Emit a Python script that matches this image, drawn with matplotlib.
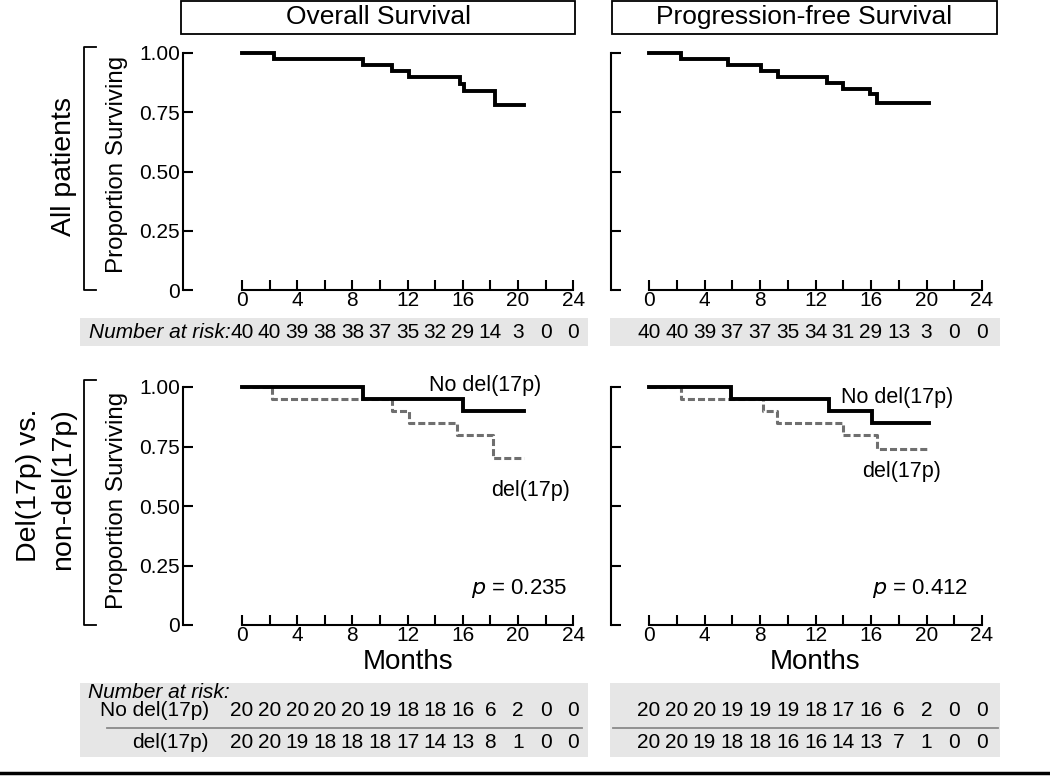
import numpy as np
import matplotlib
matplotlib.use("Agg")
import matplotlib.pyplot as plt
from matplotlib.patches import Rectangle
from matplotlib.lines import Line2D

plt.rcParams['font.family'] = ['Liberation Sans', 'DejaVu Sans']

# ---- data ----
months_ticks = np.arange(0, 25, 2)

os_all_t = [0, 2.3, 8.8, 10.85, 12.1, 15.8, 16.1, 18.3, 20.4]
os_all_s = [1.0, 0.975, 0.95, 0.925, 0.9, 0.87, 0.84, 0.78, 0.78]

pfs_all_t = [0, 2.3, 5.7, 8.1, 9.3, 12.8, 14.0, 15.95, 16.4, 20.2]
pfs_all_s = [1.0, 0.975, 0.95, 0.925, 0.9, 0.875, 0.85, 0.825, 0.79, 0.79]

os_nodel_t = [0, 8.8, 16.0, 20.4]
os_nodel_s = [1.0, 0.95, 0.9, 0.9]
os_del_t = [0, 2.2, 10.85, 12.1, 15.6, 18.2, 20.4]
os_del_s = [1.0, 0.95, 0.9, 0.85, 0.8, 0.7, 0.7]

pfs_nodel_t = [0, 5.9, 13.0, 16.1, 20.2]
pfs_nodel_s = [1.0, 0.95, 0.9, 0.85, 0.85]
pfs_del_t = [0, 2.3, 8.2, 9.2, 14.0, 16.4, 20.2]
pfs_del_s = [1.0, 0.95, 0.9, 0.85, 0.8, 0.74, 0.74]

risk_os_all = [40, 40, 39, 38, 38, 37, 35, 32, 29, 14, 3, 0, 0]
risk_pfs_all = [40, 40, 39, 37, 37, 35, 34, 31, 29, 13, 3, 0, 0]
risk_os_nodel = [20, 20, 20, 20, 20, 19, 18, 18, 16, 6, 2, 0, 0]
risk_os_del = [20, 20, 19, 18, 18, 18, 17, 14, 13, 8, 1, 0, 0]
risk_pfs_nodel = [20, 20, 20, 19, 19, 19, 18, 17, 16, 6, 2, 0, 0]
risk_pfs_del = [20, 20, 19, 18, 18, 16, 16, 14, 13, 7, 1, 0, 0]

W, H = 1050, 777
fig = plt.figure(figsize=(W / 100, H / 100), dpi=100)


def fx(x):
    return x / W


def fy(y):
    return 1 - y / H


def add_panel(x0px, pxpm, spine_px, top_px, bot_px, ylabels):
    # x0px: pixel of month 0, pxpm: pixels per month
    xlo = (spine_px - x0px) / pxpm
    xhi = 24.4
    ppu = bot_px - top_px
    ylo, yhi = -0.02, 1.03
    left = spine_px
    right = x0px + xhi * pxpm
    top = top_px - (yhi - 1) * ppu
    bottom = bot_px - ylo * ppu
    ax = fig.add_axes([fx(left), fy(bottom), fx(right - left), (bottom - top) / H])
    ax.set_xlim(xlo, xhi)
    ax.set_ylim(ylo, yhi)
    for s in ['top', 'right']:
        ax.spines[s].set_visible(False)
    ax.spines['left'].set_bounds(0, 1)
    ax.spines['bottom'].set_position(('data', 0))
    ax.spines['bottom'].set_bounds(0, 24)
    for s in ['left', 'bottom']:
        ax.spines[s].set_linewidth(1.5)
    ax.set_xticks(months_ticks)
    ax.set_xticklabels([str(m) if m % 4 == 0 else '' for m in months_ticks])
    ax.set_yticks([0, 0.25, 0.5, 0.75, 1.0])
    if ylabels:
        ax.set_yticklabels(['0', '0.25', '0.50', '0.75', '1.00'])
    else:
        ax.set_yticklabels([])
    ax.tick_params(direction='in', length=7, width=1.5, labelsize=15, pad=2)
    ax.tick_params(axis='x', pad=1)
    ax.patch.set_alpha(0)
    return ax


# geometry in pixels
L0, LPM, LSP = 242, 13.8, 183
R0, RPM, RSP = 649, 13.875, 611
T_TOP, T_BOT = 53, 290
B_TOP, B_BOT = 387, 625

ax1 = add_panel(L0, LPM, LSP, T_TOP, T_BOT, True)
ax2 = add_panel(R0, RPM, RSP, T_TOP, T_BOT, False)
ax3 = add_panel(L0, LPM, LSP, B_TOP, B_BOT, True)
ax4 = add_panel(R0, RPM, RSP, B_TOP, B_BOT, False)

blk = dict(where='post', color='black', lw=2.8, solid_joinstyle='miter')
gry = dict(where='post', color='#6f6f6f', lw=2.2, linestyle=(0, (2.3, 1.0)))

ax1.step(os_all_t, os_all_s, **blk)
ax2.step(pfs_all_t, pfs_all_s, **blk)
ax3.step(os_del_t, os_del_s, **gry)
ax3.step(os_nodel_t, os_nodel_s, **blk)
ax4.step(pfs_del_t, pfs_del_s, **gry)
ax4.step(pfs_nodel_t, pfs_nodel_s, **blk)

ax3.text(17.6, 1.008, 'No del(17p)', fontsize=15.5, ha='center', va='center')
ax3.text(20.9, 0.565, 'del(17p)', fontsize=15.5, ha='center', va='center')
ax3.text(20.1, 0.155, r'$p$ = 0.235', fontsize=16, ha='center', va='center')
ax4.text(17.9, 0.955, 'No del(17p)', fontsize=15.5, ha='center', va='center')
ax4.text(18.2, 0.645, 'del(17p)', fontsize=15.5, ha='center', va='center')
ax4.text(19.5, 0.155, r'$p$ = 0.412', fontsize=16, ha='center', va='center')

# x axis titles
fig.text(fx(L0 + 12 * LPM), fy(662), 'Months', fontsize=20, ha='center', va='center')
fig.text(fx(R0 + 12 * RPM), fy(662), 'Months', fontsize=20, ha='center', va='center')

# title boxes
for (x0, x1, txt) in [(181, 575, 'Overall Survival'), (612, 997, 'Progression-free Survival')]:
    fig.patches.append(Rectangle((fx(x0), fy(34)), fx(x1 - x0), 33 / H, transform=fig.transFigure,
                                 facecolor='white', edgecolor='black', lw=1.3))
    fig.text(fx((x0 + x1) / 2), fy(17), txt, fontsize=19, ha='center', va='center')

# row labels and brackets
for (ytop, ybot) in [(47, 290), (380, 625)]:
    xs = [fx(96), fx(84), fx(84), fx(96)]
    ys = [fy(ytop), fy(ytop), fy(ybot), fy(ybot)]
    fig.lines.append(Line2D(xs, ys, transform=fig.transFigure, color='black', lw=1.3))
fig.text(fx(117), fy(164), 'Proportion Surviving', fontsize=17.4, rotation=90, ha='center', va='center')
fig.text(fx(117), fy(500), 'Proportion Surviving', fontsize=17.4, rotation=90, ha='center', va='center')
fig.text(fx(64), fy(167), 'All patients', fontsize=20.5, rotation=90, ha='center', va='center')
fig.text(fx(29), fy(485), 'Del(17p) vs.', fontsize=20.5, rotation=90, ha='center', va='center')
fig.text(fx(63), fy(489), 'non-del(17p)', fontsize=20.5, rotation=90, ha='center', va='center')

# number at risk tables
band = '#e6e6e6'
for (x0, x1) in [(80, 588), (610, 1000)]:
    fig.patches.append(Rectangle((fx(x0), fy(346)), fx(x1 - x0), 28 / H, transform=fig.transFigure,
                                 facecolor=band, edgecolor='none'))
    fig.patches.append(Rectangle((fx(x0), fy(757)), fx(x1 - x0), 74 / H, transform=fig.transFigure,
                                 facecolor=band, edgecolor='none'))

fs = 15
fig.text(fx(231), fy(332), 'Number at risk:', fontsize=fs, style='italic', ha='right', va='center')
for m, a, b in zip(months_ticks, risk_os_all, risk_pfs_all):
    fig.text(fx(L0 + m * LPM), fy(332), str(a), fontsize=fs, ha='center', va='center')
    fig.text(fx(R0 + m * RPM), fy(332), str(b), fontsize=fs, ha='center', va='center')

fig.text(fx(88), fy(693), 'Number at risk:', fontsize=fs, style='italic', ha='left', va='center')
fig.text(fx(209), fy(710), 'No del(17p)', fontsize=fs, ha='right', va='center')
fig.text(fx(209), fy(742), 'del(17p)', fontsize=fs, ha='right', va='center')
for m, a, b, c, d in zip(months_ticks, risk_os_nodel, risk_os_del, risk_pfs_nodel, risk_pfs_del):
    fig.text(fx(L0 + m * LPM), fy(710), str(a), fontsize=fs, ha='center', va='center')
    fig.text(fx(L0 + m * LPM), fy(742), str(b), fontsize=fs, ha='center', va='center')
    fig.text(fx(R0 + m * RPM), fy(710), str(c), fontsize=fs, ha='center', va='center')
    fig.text(fx(R0 + m * RPM), fy(742), str(d), fontsize=fs, ha='center', va='center')

for (x0, x1) in [(107, 582), (613, 998)]:
    fig.lines.append(Line2D([fx(x0), fx(x1)], [fy(728), fy(728)], transform=fig.transFigure,
                            color='#8a8a8a', lw=1.3))

fig.lines.append(Line2D([0, 1], [fy(773), fy(773)], transform=fig.transFigure, color='black', lw=2.5))

fig.savefig('out.png', dpi=100)
